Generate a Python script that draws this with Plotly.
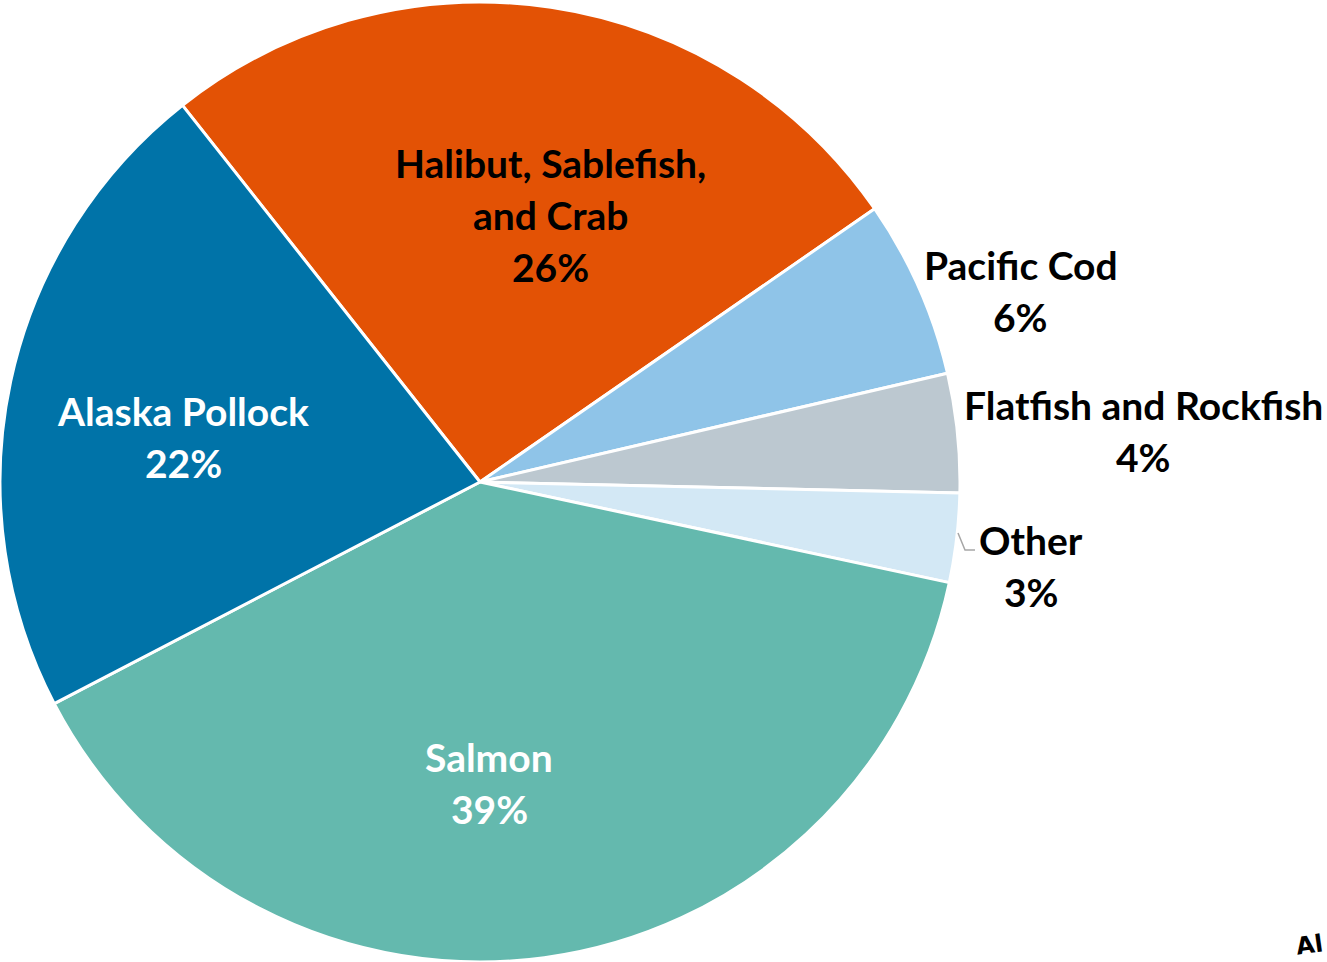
import plotly.graph_objects as go

# Share of value by species group
categories = ["Halibut, Sablefish,<br>and Crab", "Pacific Cod", "Flatfish and Rockfish",
              "Other", "Salmon", "Alaska Pollock"]
shares = [26, 6, 4, 3, 39, 22]
colors = ["#E35205", "#8FC4E8", "#BCC8D0", "#D3E8F5", "#64B9AE", "#0073A8"]
text_colors = ["black", "black", "black", "black", "white", "white"]

# Label anchor positions (pixel centres of first line) and line step
label_pos = [(550, 163), (1021, 265), (1143, 405), (1031, 540), (489, 757), (183, 411)]
W, H = 1327, 962
LINE = 52
FONT = "Lato"
FSIZE = 39

fig = go.Figure(go.Pie(
    labels=[c.replace("<br>", " ") for c in categories],
    values=shares,
    sort=False,
    direction="clockwise",
    rotation=-38.3,
    marker=dict(colors=colors, line=dict(color="white", width=3)),
    textinfo="none",
    hoverinfo="label+percent",
    domain=dict(x=[0, 960 / W], y=[0, 960 / H]),
    showlegend=False,
))

annotations = []
for cat, val, (px, py), tc in zip(categories, shares, label_pos, text_colors):
    lines = cat.split("<br>") + [f"{val}%"]
    for i, ln in enumerate(lines):
        annotations.append(dict(
            x=px / W, y=1 - (py + i * LINE) / H, xref="paper", yref="paper",
            text=f"<b>{ln}</b>", showarrow=False, xanchor="center", yanchor="middle",
            font=dict(family=FONT, size=FSIZE, color=tc),
        ))

# Small logo mark in the corner
annotations.append(dict(
    x=1, y=1 - 945 / H, xref="paper", yref="paper", text="<b>Al</b>",
    showarrow=False, xanchor="right", yanchor="middle", textangle=-8,
    font=dict(family="DejaVu Sans", size=24, color="black"),
))

# Leader line for the small "Other" slice
shapes = [dict(
    type="path", xref="paper", yref="paper",
    path=f"M {958 / W} {1 - 533 / H} L {965 / W} {1 - 550 / H} L {975 / W} {1 - 550 / H}",
    line=dict(color="#A6A6A6", width=1.5),
)]

fig.update_layout(
    width=W, height=H,
    margin=dict(l=0, r=0, t=0, b=0),
    paper_bgcolor="white", plot_bgcolor="white",
    annotations=annotations, shapes=shapes,
)

fig.write_html("out.html")
